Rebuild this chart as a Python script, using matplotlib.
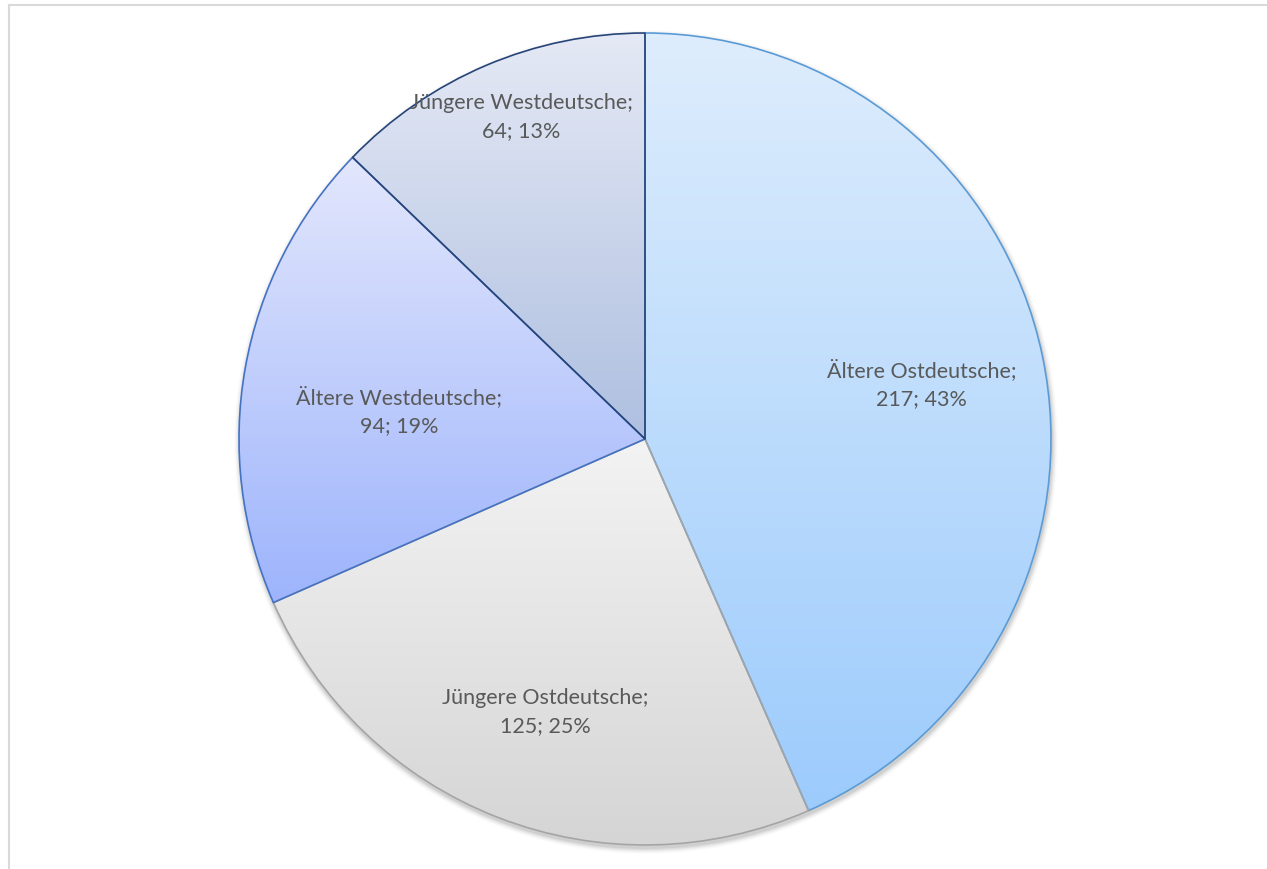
import numpy as np
import matplotlib.pyplot as plt
from matplotlib.colors import LinearSegmentedColormap
from matplotlib.lines import Line2D

# Data
labels = ['Ältere Ostdeutsche', 'Jüngere Ostdeutsche', 'Ältere Westdeutsche', 'Jüngere Westdeutsche']
values = [217, 125, 94, 64]

# Styling (gradient top -> bottom, edge colour)
top_colors = ['#DEEDFD', '#F3F3F3', '#E3E7FD', '#E5E9F5']
bottom_colors = ['#9CCBFC', '#D5D5D5', '#9DB4FC', '#AEBFE0']
edge_colors = ['#5B9BD5', '#A5A5A5', '#4472C4', '#264478']
# label placement: fraction of radius and angle tweak (deg), like Excel's best fit
label_dist = [0.695, 0.715, 0.61, 0.85]
label_shift = [-0.7, 1.2, 3.6, -2.0]

W, H = 1267, 869
fig = plt.figure(figsize=(W / 100, H / 100), dpi=100)
ax = fig.add_axes([0, 0, 1, 1])

cx, cy, R = 645, H - 439, 406

# soft shadow under the pie
for i, a in enumerate(np.linspace(0.05, 0.01, 6)):
    ax.add_patch(plt.Circle((cx + 1, cy - 3), R + 1 + i, color='black', alpha=a, lw=0, zorder=0))
ax.add_patch(plt.Circle((cx, cy), R, color='white', lw=0, zorder=0.5))

wedges, _ = ax.pie(values, startangle=90, counterclock=False, center=(cx, cy), radius=R,
                   wedgeprops=dict(linewidth=1.2, joinstyle='round'), frame=True)
ax.set_xlim(0, W)
ax.set_ylim(0, H)
ax.set_aspect('equal')
ax.axis('off')

grad = np.linspace(0, 1, 256).reshape(-1, 1)
for w, c0, c1, ec in zip(wedges, top_colors, bottom_colors, edge_colors):
    w.set_facecolor('none')
    w.set_edgecolor(ec)
    w.set_zorder(3)
    ext = w.get_path().get_extents()
    cmap = LinearSegmentedColormap.from_list('g', [c1, c0])
    im = ax.imshow(grad, cmap=cmap, origin='lower', aspect='auto',
                   extent=[ext.x0, ext.x1, ext.y0, ext.y1], zorder=2, interpolation='bilinear')
    im.set_clip_path(w)

for w, lab, v, d, s in zip(wedges, labels, values, label_dist, label_shift):
    ang = np.deg2rad((w.theta1 + w.theta2) / 2 + s)
    x = cx + d * R * np.cos(ang)
    y = cy + d * R * np.sin(ang)
    pct = round(v / sum(values) * 100)
    ax.text(x, y, f'{lab};\n{v}; {pct}%', ha='center', va='center', fontsize=15.5,
            color='#595959', family=['Lato', 'DejaVu Sans'], linespacing=1.5, zorder=5)

# chart frame (cropped at right and bottom)
fig.add_artist(Line2D([9 / W, 1], [1 - 5 / H, 1 - 5 / H], transform=fig.transFigure, color='#D9D9D9', lw=1.5))
fig.add_artist(Line2D([9 / W, 9 / W], [0, 1 - 5 / H], transform=fig.transFigure, color='#D9D9D9', lw=1.5))

fig.savefig('out.png', dpi=100)
